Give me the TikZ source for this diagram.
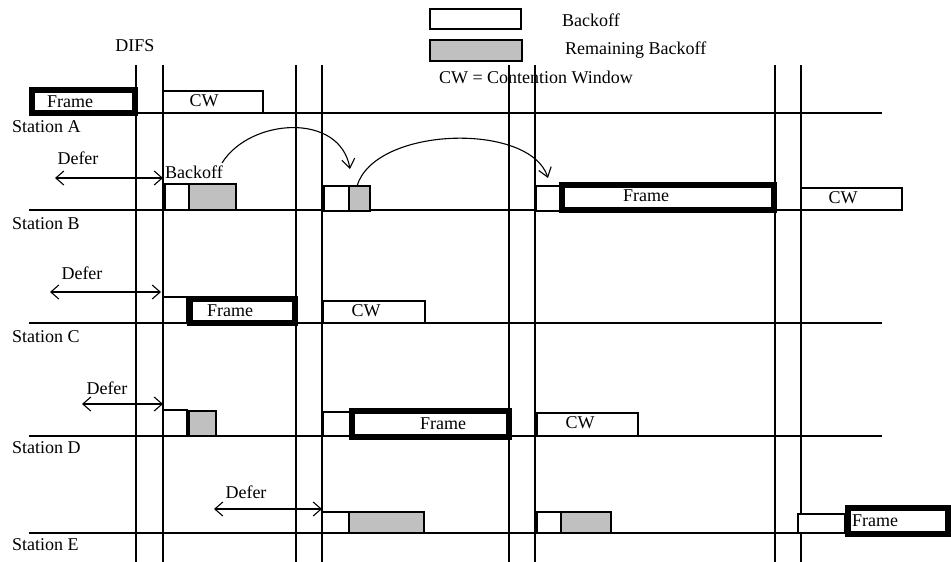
\documentclass[tikz,border=0pt]{standalone}
\usepackage{fontspec}
\setmainfont{Liberation Serif}
\usetikzlibrary{arrows.meta}
\definecolor{boxgray}{RGB}{192,192,192}
\begin{document}
\begin{tikzpicture}[x=1pt,y=-1pt,
  every node/.style={font=\fontsize{18}{21}\selectfont, inner sep=0pt},
  grid/.style={line width=1.2pt},
  bk/.style n args={2}{draw, line width=1.1pt, fill=white, minimum width=#1pt, minimum height=#2pt},
  gb/.style n args={2}{draw, line width=1.1pt, fill=boxgray, minimum width=#1pt, minimum height=#2pt},
  fr/.style n args={2}{draw, line width=6pt, fill=white, minimum width=#1pt, minimum height=#2pt},
  dfr/.style={{Straight Barb[length=8pt,width=14pt]}-{Straight Barb[length=8pt,width=14pt]}, line width=1.1pt},
  jump/.style={-{Straight Barb[length=9pt,width=13pt]}, line width=1.1pt}]
\useasboundingbox (0,0) rectangle (951,562);

% station lines
\foreach \y/\n in {113/A,210/B,323/C,436/D,533/E}{
  \coordinate (L\n) at (29,\y);
  \coordinate (R\n) at (882,\y);
  \draw[grid] (L\n) -- (R\n);
}
% vertical lines
\foreach \x [count=\i] in {136,163,296,322,509,535,775,801}{
  \coordinate (T\i) at (\x,65);
  \coordinate (U\i) at (\x,562);
  \draw[grid] (T\i) -- (U\i);
}

% legend
\node[bk={91}{20}] (legbk) at (475.5,19) {};
\node[gb={92}{21}] (leggb) at (476,50.5) {};
\node (legbkt) at (591,20) {Backoff};
\node[anchor=west] (leggbt) at (565,50) {Remaining Backoff};
\node (legcw) at (536,77) {CW = Contention Window};
\node (difs) at (135,46) {DIFS};

% station labels
\node[anchor=west] (sA) at (12,127) {Station A};
\node[anchor=west] (sB) at (12,224) {Station B};
\node[anchor=west] (sC) at (12,337) {Station C};
\node[anchor=west] (sD) at (12,448) {Station D};
\node[anchor=west] (sE) at (12,545) {Station E};

% Station A
\node[fr={103}{23}] (fA) at (83.5,101.5) {};
\node (fAt) at (70,102) {Frame};
\node[bk={100}{22}] (cwA) at (213,102) {};
\node (cwAt) at (204,101) {CW};

% Station B
\node (dBt) at (78,158) {Defer};
\coordinate (dB1) at (55,178);
\coordinate (dB2) at (163,178);
\draw[dfr] (dB1) -- (dB2);
\node (boB) at (194,172) {Backoff};
\node[bk={24}{26}] (bB1) at (177,197) {};
\node[gb={47}{26}] (gB1) at (212.5,197) {};
\node[bk={25}{25}] (bB2) at (336.5,198.5) {};
\node[gb={21}{25}] (gB2) at (359.5,198.5) {};
\node[bk={24}{25}] (bB3) at (548,198.5) {};
\node[fr={212}{25}] (fB) at (668,197.5) {};
\node (fBt) at (646,196) {Frame};
\node[bk={101}{22}] (cwB) at (851.5,199) {};
\node (cwBt) at (843,198) {CW};
\coordinate (c1s) at (222,163);
\coordinate (c1e) at (350,169);
\draw[jump] (c1s) .. controls (250,118) and (340,112) .. (c1e);
\coordinate (c2s) at (357,186);
\coordinate (c2e) at (548,178);
\draw[jump] (c2s) .. controls (375,126) and (530,122) .. (c2e);

% Station C
\node (dCt) at (82,273) {Defer};
\coordinate (dC1) at (50,292);
\coordinate (dC2) at (161,292);
\draw[dfr] (dC1) -- (dC2);
\node[bk={24}{26}] (bC1) at (175,310) {};
\node[fr={105}{24}] (fC) at (242.5,311) {};
\node (fCt) at (230,311) {Frame};
\node[bk={102}{22}] (cwC) at (374,312) {};
\node (cwCt) at (366,311) {CW};

% Station D
\node (dDt) at (107,388) {Defer};
\coordinate (dD1) at (82,404);
\coordinate (dD2) at (163,404);
\draw[dfr] (dD1) -- (dD2);
\node[bk={24}{26}] (bD1) at (175,423) {};
\node[gb={27}{25}] (gD1) at (202.5,423.5) {};
\node[bk={27}{24}] (bD2) at (336.5,424) {};
\node[fr={157}{26}] (fD) at (430.5,424) {};
\node (fDt) at (443,424) {Frame};
\node[bk={101}{23}] (cwD) at (587.5,424.5) {};
\node (cwDt) at (580,423) {CW};

% Station E
\node (dEt) at (246,492) {Defer};
\coordinate (dE1) at (214,509);
\coordinate (dE2) at (322,509);
\draw[dfr] (dE1) -- (dE2);
\node[bk={27}{21}] (bE1) at (335.5,522.5) {};
\node[gb={75}{21}] (gE1) at (386.5,522.5) {};
\node[bk={24}{21}] (bE2) at (549,522.5) {};
\draw[line width=2.5pt] (bE2.south west) -- (bE2.north west);
\node[gb={50}{21}] (gE2) at (586,522.5) {};
\node[bk={47}{19}] (bE3) at (821.5,523.5) {};
\node[fr={100}{26}] (fE) at (898,521) {};
\node[anchor=west] (fEt) at (852,521) {Frame};
\end{tikzpicture}
\end{document}
